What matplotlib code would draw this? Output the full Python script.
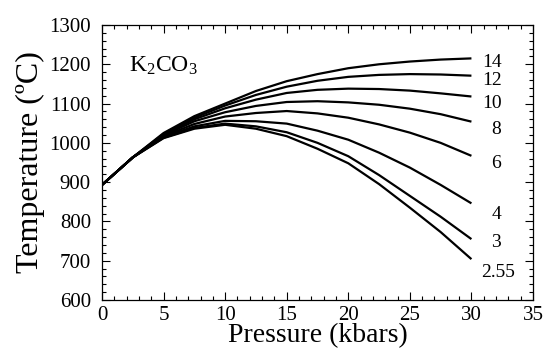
import numpy as np
import matplotlib
matplotlib.use("Agg")
import matplotlib.pyplot as plt
from matplotlib.ticker import MultipleLocator

plt.rcParams['font.family'] = ['Liberation Serif', 'DejaVu Serif']
plt.rcParams['mathtext.fontset'] = 'custom'
plt.rcParams['mathtext.rm'] = 'Liberation Serif'
plt.rcParams['mathtext.it'] = 'Liberation Serif'

# pressure (kbars)
pressure = [0, 2.5, 5, 7.5, 10, 12.5, 15, 17.5, 20, 22.5, 25, 27.5, 30]

# melting temperature (C) for each curve label
labels = ["14", "12", "10", "8", "6", "4", "3", "2.55"]
t_14 = [893, 963, 1025, 1068, 1100, 1132, 1157, 1175, 1190, 1200, 1207, 1212, 1215]
t_12 = [893, 963, 1023, 1064, 1095, 1122, 1143, 1158, 1168, 1173, 1175, 1174, 1171]
t_10 = [893, 963, 1021, 1060, 1088, 1110, 1127, 1135, 1138, 1137, 1133, 1126, 1118]
t_8 = [893, 963, 1019, 1055, 1078, 1094, 1104, 1106, 1103, 1097, 1087, 1073, 1054]
t_6 = [893, 963, 1017, 1048, 1067, 1076, 1081, 1075, 1064, 1047, 1026, 1000, 967]
t_4 = [893, 963, 1015, 1042, 1056, 1055, 1049, 1031, 1008, 975, 937, 893, 846]
t_3 = [893, 963, 1013, 1038, 1049, 1042, 1027, 1000, 966, 918, 865, 812, 755]
t_255 = [893, 963, 1012, 1036, 1046, 1036, 1017, 985, 948, 895, 835, 773, 704]
series = [t_14, t_12, t_10, t_8, t_6, t_4, t_3, t_255]

# where the curve labels sit
label_x = [30.9, 30.9, 30.9, 31.6, 31.6, 31.6, 31.6, 30.8]
label_y = [1204, 1159, 1100, 1033, 948, 818, 747, 671]

fig = plt.figure(figsize=(5.46, 3.51), dpi=100)
ax = fig.add_axes([102/546, 51/351, 431/546, 275/351])

for t in series:
    ax.plot(pressure, t, color='black', lw=1.6, solid_capstyle='butt')

for lab, lx, ly in zip(labels, label_x, label_y):
    ax.text(lx, ly, lab, fontsize=14, va='center', ha='left')

ax.text(2.2, 1197, r"K$_2$CO$_3$", fontsize=17, va='center', ha='left')

ax.set_xlim(0, 35)
ax.set_ylim(600, 1300)
ax.xaxis.set_major_locator(MultipleLocator(5))
ax.xaxis.set_minor_locator(MultipleLocator(1))
ax.yaxis.set_major_locator(MultipleLocator(100))
ax.yaxis.set_minor_locator(MultipleLocator(20))
ax.tick_params(which='both', direction='in', top=True, right=True, labelsize=15, width=0.8)
ax.tick_params(which='major', length=6)
ax.tick_params(axis='y', which='major', pad=8)
ax.tick_params(axis='x', which='major', pad=4)
ax.tick_params(which='minor', length=3)
for s in ax.spines.values():
    s.set_linewidth(0.9)

ax.set_xlabel("Pressure (kbars)", fontsize=20, labelpad=-1)
ax.set_ylabel("Temperature (ºC)", fontsize=23, labelpad=3)

plt.savefig("out.png", dpi=100)
